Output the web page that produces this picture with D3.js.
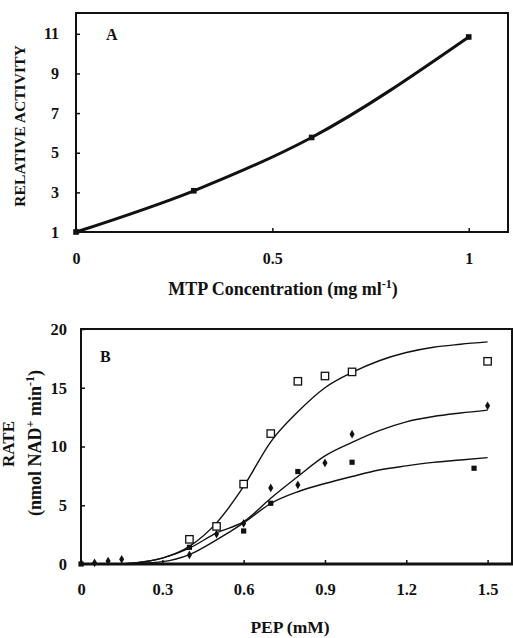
<!DOCTYPE html>
<html><head><meta charset="utf-8">
<script src="https://cdn.jsdelivr.net/npm/d3@7"></script>
<style>
body{margin:0;background:#fff;}
text{font-family:"Liberation Serif","Times New Roman",serif;font-weight:bold;fill:#111;}
</style></head>
<body><svg id="c" width="513" height="638"></svg>
<script>
// Panel A data
const mtpConc = [0, 0.3, 0.6, 1.0];
const relActivity = [1.0, 3.08, 5.77, 10.84];
const aXTicks = [0, 0.5, 1];
const aYTicks = [1, 3, 5, 7, 9, 11];

// Panel B data
const pepOpenSq = [0.4, 0.5, 0.6, 0.7, 0.8, 0.9, 1.0, 1.5];
const rateOpenSq = [2.1, 3.2, 6.8, 11.1, 15.55, 16.0, 16.35, 17.25];
const pepDiamond = [0.05, 0.1, 0.15, 0.4, 0.5, 0.6, 0.7, 0.8, 0.9, 1.0, 1.5];
const rateDiamond = [0.1, 0.25, 0.4, 0.77, 2.55, 3.45, 6.47, 6.73, 8.6, 11.05, 13.46];
const pepFilledSq = [0.0, 0.4, 0.6, 0.7, 0.8, 1.0, 1.45];
const rateFilledSq = [0.0, 1.42, 2.81, 5.17, 7.87, 8.66, 8.15];
const curveX = [0.065, 0.1, 0.2, 0.3, 0.4, 0.5, 0.6, 0.7, 0.8, 0.9, 1.0, 1.1, 1.2, 1.3, 1.4, 1.5];
const curveHigh = [0, 0, 0.1, 0.5, 1.5, 3.5, 6.6, 10.4, 12.95, 15.0, 16.3, 17.3, 18.0, 18.45, 18.7, 18.9];
const curveMid = [0, 0, 0.1, 0.5, 1.35, 2.65, 3.6, 5.6, 7.45, 9.2, 10.35, 11.35, 12.1, 12.55, 12.85, 13.1];
const curveLow = [0, 0, 0.05, 0.2, 0.8, 2.05, 3.5, 5.15, 6.15, 6.85, 7.45, 8.0, 8.35, 8.65, 8.85, 9.05];
const bXTicks = [0, 0.3, 0.6, 0.9, 1.2, 1.5];
const bYTicks = [0, 5, 10, 15, 20];

const svg = d3.select("#c");
const fmt = d => String(d);

// ---------- Panel A ----------
const ax = d3.scaleLinear().domain([0, 1.1]).range([76, 508]);
const ay = d3.scaleLinear().domain([1, 12.05]).range([232, 13]);
const gA = svg.append("g");
gA.append("rect").attr("x", 76).attr("y", 13).attr("width", 432).attr("height", 219)
  .attr("fill", "none").attr("stroke", "#111").attr("stroke-width", 2);
const axA = gA.append("g").attr("transform", "translate(0,232)")
  .call(d3.axisBottom(ax).tickValues(aXTicks).tickFormat(fmt).tickSizeInner(-4).tickSizeOuter(0).tickPadding(21));
const ayA = gA.append("g").attr("transform", "translate(76,0)")
  .call(d3.axisLeft(ay).tickValues(aYTicks).tickFormat(fmt).tickSizeInner(-4).tickSizeOuter(0).tickPadding(17));
[axA, ayA].forEach(g => {
  g.select(".domain").remove();
  g.selectAll(".tick line").attr("stroke", "#111").attr("stroke-width", 1.5);
  g.selectAll("text").attr("font-size", 16).attr("font-family", null).attr("fill", "#111");
});
const lineA = d3.line().x(d => ax(d[0])).y(d => ay(d[1])).curve(d3.curveMonotoneX);
const aData = mtpConc.map((x, i) => [x, relActivity[i]]);
gA.append("path").datum(aData).attr("d", lineA).attr("fill", "none")
  .attr("stroke", "#111").attr("stroke-width", 3);
gA.selectAll("rect.pt").data(aData).enter().append("rect").attr("class", "pt")
  .attr("x", d => ax(d[0]) - 2.8).attr("y", d => ay(d[1]) - 2.8)
  .attr("width", 5.6).attr("height", 5.6).attr("fill", "#111");
gA.append("text").attr("x", 106).attr("y", 40).attr("font-size", 16).text("A");
gA.append("text").attr("transform", "translate(25,126) rotate(-90)")
  .attr("text-anchor", "middle").attr("font-size", 15.6).text("RELATIVE ACTIVITY");
const tA = gA.append("text").attr("x", 283).attr("y", 295).attr("text-anchor", "middle").attr("font-size", 18);
tA.append("tspan").text("MTP Concentration (mg ml");
tA.append("tspan").attr("font-size", 12).attr("dy", -7).text("-1");
tA.append("tspan").attr("dy", 7).text(")");

// ---------- Panel B ----------
const bx = d3.scaleLinear().domain([0, 1.59]).range([81, 512]);
const by = d3.scaleLinear().domain([0, 20]).range([564, 329]);
const gB = svg.append("g");
gB.append("rect").attr("x", 81).attr("y", 329).attr("width", 431).attr("height", 235)
  .attr("fill", "none").attr("stroke", "#111").attr("stroke-width", 2);
gB.append("line").attr("x1", 80).attr("x2", 513).attr("y1", 564).attr("y2", 564)
  .attr("stroke", "#111").attr("stroke-width", 3);
const axB = gB.append("g").attr("transform", "translate(0,564)")
  .call(d3.axisBottom(bx).tickValues(bXTicks).tickFormat(fmt).tickSizeInner(-4).tickSizeOuter(0).tickPadding(19));
const ayB = gB.append("g").attr("transform", "translate(81,0)")
  .call(d3.axisLeft(by).tickValues(bYTicks).tickFormat(fmt).tickSizeInner(-4).tickSizeOuter(0).tickPadding(14));
[axB, ayB].forEach(g => {
  g.select(".domain").remove();
  g.selectAll(".tick line").attr("stroke", "#111").attr("stroke-width", 1.5);
  g.selectAll("text").attr("font-size", 16.5).attr("font-family", null).attr("fill", "#111");
});
const lineB = d3.line().x(d => bx(d[0])).y(d => by(d[1])).curve(d3.curveMonotoneX);
[curveHigh, curveMid, curveLow].forEach(c => {
  gB.append("path").datum(curveX.map((x, i) => [x, c[i]])).attr("d", lineB)
    .attr("fill", "none").attr("stroke", "#111").attr("stroke-width", 1.4);
});
// open squares
gB.selectAll("rect.os").data(pepOpenSq.map((x, i) => [x, rateOpenSq[i]])).enter().append("rect")
  .attr("class", "os").attr("x", d => bx(d[0]) - 3.7).attr("y", d => by(d[1]) - 3.7)
  .attr("width", 7.4).attr("height", 7.4).attr("fill", "#fff").attr("stroke", "#111").attr("stroke-width", 1.3);
// filled squares
gB.selectAll("rect.fs").data(pepFilledSq.map((x, i) => [x, rateFilledSq[i]])).enter().append("rect")
  .attr("class", "fs").attr("x", d => bx(d[0]) - 2.6).attr("y", d => by(d[1]) - 2.6)
  .attr("width", 5.2).attr("height", 5.2).attr("fill", "#111");
// diamonds
const dSym = d3.symbol().type(d3.symbolDiamond).size(22);
gB.selectAll("path.dm").data(pepDiamond.map((x, i) => [x, rateDiamond[i]])).enter().append("path")
  .attr("class", "dm").attr("d", dSym).attr("transform", d => `translate(${bx(d[0])},${by(d[1])})`)
  .attr("fill", "#111");
gB.append("text").attr("x", 100).attr("y", 362).attr("font-size", 16).text("B");
gB.append("text").attr("transform", "translate(14,444) rotate(-90)")
  .attr("text-anchor", "middle").attr("font-size", 17).text("RATE");
const yb = gB.append("text").attr("transform", "translate(41,443) rotate(-90)")
  .attr("text-anchor", "middle").attr("font-size", 18);
yb.append("tspan").text("(nmol NAD");
yb.append("tspan").attr("font-size", 12).attr("dy", -7).text("+");
yb.append("tspan").attr("dy", 7).text(" min");
yb.append("tspan").attr("font-size", 12).attr("dy", -7).text("-1");
yb.append("tspan").attr("dy", 7).text(")");
gB.append("text").attr("x", 290).attr("y", 633).attr("text-anchor", "middle").attr("font-size", 17.5).text("PEP (mM)");
</script></body></html>
